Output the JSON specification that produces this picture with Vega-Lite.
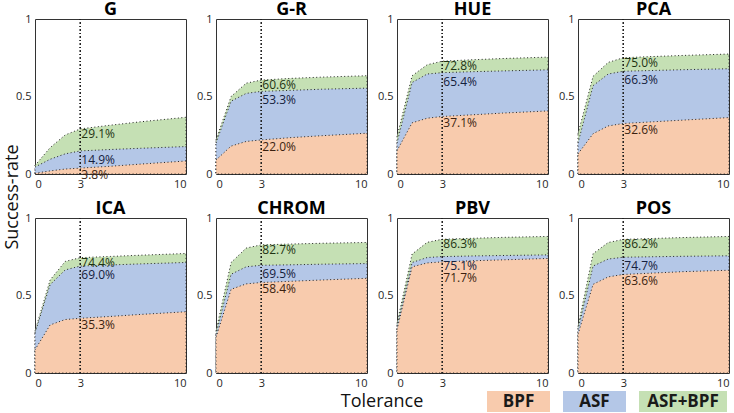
{
  "$schema": "https://vega.github.io/schema/vega-lite/v6.json",
  "padding": 0,
  "autosize": {"type": "pad"},
  "background": "white",
  "config": {
    "font": "Open Sans",
    "view": {"stroke": "#333333", "strokeWidth": 1},
    "axis": {"grid": false, "domain": false, "ticks": false, "labelFont": "Open Sans", "labelFontSize": 11, "labelColor": "#262626", "labelPadding": 4}
  },
  "datasets": {
    "curves": [
      {"m": "G", "x": 0, "bpf": 0.005, "asf": 0.045, "both": 0.055},
      {"m": "G", "x": 1, "bpf": 0.02, "asf": 0.095, "both": 0.17},
      {"m": "G", "x": 2, "bpf": 0.032, "asf": 0.13, "both": 0.252},
      {"m": "G", "x": 3, "bpf": 0.038, "asf": 0.149, "both": 0.291},
      {"m": "G", "x": 5, "bpf": 0.05, "asf": 0.158, "both": 0.315},
      {"m": "G", "x": 7, "bpf": 0.064, "asf": 0.166, "both": 0.337},
      {"m": "G", "x": 10, "bpf": 0.084, "asf": 0.177, "both": 0.366},
      {"m": "G-R", "x": 0, "bpf": 0.09, "asf": 0.2, "both": 0.22},
      {"m": "G-R", "x": 1, "bpf": 0.18, "asf": 0.47, "both": 0.5},
      {"m": "G-R", "x": 2, "bpf": 0.21, "asf": 0.52, "both": 0.586},
      {"m": "G-R", "x": 3, "bpf": 0.22, "asf": 0.533, "both": 0.606},
      {"m": "G-R", "x": 5, "bpf": 0.235, "asf": 0.54, "both": 0.617},
      {"m": "G-R", "x": 7, "bpf": 0.247, "asf": 0.547, "both": 0.625},
      {"m": "G-R", "x": 10, "bpf": 0.263, "asf": 0.554, "both": 0.634},
      {"m": "HUE", "x": 0, "bpf": 0.15, "asf": 0.2, "both": 0.24},
      {"m": "HUE", "x": 1, "bpf": 0.33, "asf": 0.59, "both": 0.634},
      {"m": "HUE", "x": 2, "bpf": 0.36, "asf": 0.645, "both": 0.705},
      {"m": "HUE", "x": 3, "bpf": 0.371, "asf": 0.654, "both": 0.728},
      {"m": "HUE", "x": 5, "bpf": 0.382, "asf": 0.66, "both": 0.737},
      {"m": "HUE", "x": 7, "bpf": 0.393, "asf": 0.665, "both": 0.745},
      {"m": "HUE", "x": 10, "bpf": 0.407, "asf": 0.672, "both": 0.754},
      {"m": "PCA", "x": 0, "bpf": 0.13, "asf": 0.2, "both": 0.26},
      {"m": "PCA", "x": 1, "bpf": 0.26, "asf": 0.57, "both": 0.63},
      {"m": "PCA", "x": 2, "bpf": 0.31, "asf": 0.645, "both": 0.72},
      {"m": "PCA", "x": 3, "bpf": 0.326, "asf": 0.663, "both": 0.75},
      {"m": "PCA", "x": 5, "bpf": 0.337, "asf": 0.668, "both": 0.758},
      {"m": "PCA", "x": 7, "bpf": 0.348, "asf": 0.673, "both": 0.765},
      {"m": "PCA", "x": 10, "bpf": 0.364, "asf": 0.679, "both": 0.774},
      {"m": "ICA", "x": 0, "bpf": 0.15, "asf": 0.26, "both": 0.27},
      {"m": "ICA", "x": 1, "bpf": 0.31, "asf": 0.57, "both": 0.6},
      {"m": "ICA", "x": 2, "bpf": 0.345, "asf": 0.665, "both": 0.72},
      {"m": "ICA", "x": 3, "bpf": 0.353, "asf": 0.69, "both": 0.744},
      {"m": "ICA", "x": 5, "bpf": 0.365, "asf": 0.697, "both": 0.752},
      {"m": "ICA", "x": 7, "bpf": 0.378, "asf": 0.704, "both": 0.76},
      {"m": "ICA", "x": 10, "bpf": 0.395, "asf": 0.713, "both": 0.771},
      {"m": "CHROM", "x": 0, "bpf": 0.23, "asf": 0.25, "both": 0.27},
      {"m": "CHROM", "x": 1, "bpf": 0.54, "asf": 0.637, "both": 0.713},
      {"m": "CHROM", "x": 2, "bpf": 0.575, "asf": 0.685, "both": 0.806},
      {"m": "CHROM", "x": 3, "bpf": 0.584, "asf": 0.695, "both": 0.827},
      {"m": "CHROM", "x": 5, "bpf": 0.592, "asf": 0.698, "both": 0.832},
      {"m": "CHROM", "x": 7, "bpf": 0.6, "asf": 0.702, "both": 0.837},
      {"m": "CHROM", "x": 10, "bpf": 0.611, "asf": 0.706, "both": 0.842},
      {"m": "PBV", "x": 0, "bpf": 0.28, "asf": 0.3, "both": 0.32},
      {"m": "PBV", "x": 1, "bpf": 0.685, "asf": 0.713, "both": 0.767},
      {"m": "PBV", "x": 2, "bpf": 0.71, "asf": 0.745, "both": 0.843},
      {"m": "PBV", "x": 3, "bpf": 0.717, "asf": 0.751, "both": 0.863},
      {"m": "PBV", "x": 5, "bpf": 0.724, "asf": 0.755, "both": 0.869},
      {"m": "PBV", "x": 7, "bpf": 0.73, "asf": 0.758, "both": 0.875},
      {"m": "PBV", "x": 10, "bpf": 0.739, "asf": 0.762, "both": 0.881},
      {"m": "POS", "x": 0, "bpf": 0.25, "asf": 0.28, "both": 0.3},
      {"m": "POS", "x": 1, "bpf": 0.572, "asf": 0.69, "both": 0.77},
      {"m": "POS", "x": 2, "bpf": 0.62, "asf": 0.735, "both": 0.842},
      {"m": "POS", "x": 3, "bpf": 0.636, "asf": 0.747, "both": 0.862},
      {"m": "POS", "x": 5, "bpf": 0.645, "asf": 0.75, "both": 0.868},
      {"m": "POS", "x": 7, "bpf": 0.654, "asf": 0.753, "both": 0.874},
      {"m": "POS", "x": 10, "bpf": 0.663, "asf": 0.756, "both": 0.881}
    ]
  },
  "bounds": "flush",
  "spacing": 13,
  "hconcat": [
    {
      "width": 22,
      "height": 356,
      "view": {"stroke": null},
      "data": {"values": [{"t": "Success-rate"}]},
      "mark": {"type": "text", "angle": 270, "dy": 2, "fontSize": 18, "font": "Open Sans", "color": "#111111"},
      "encoding": {"text": {"field": "t", "type": "nominal"}}
    },
    {
      "spacing": 2,
      "vconcat": [
        {
          "data": {"name": "curves"},
          "facet": {
            "field": "m",
            "type": "nominal",
            "sort": ["G", "G-R", "HUE", "PCA", "ICA", "CHROM", "PBV", "POS"],
            "header": {"title": null, "labelFontSize": 18, "labelFontWeight": "bold", "labelFont": "Open Sans", "labelColor": "#000000", "labelPadding": -6}
          },
          "columns": 4,
          "bounds": "flush",
          "spacing": {"column": 30, "row": 44},
          "resolve": {"axis": {"x": "independent", "y": "independent"}},
          "spec": {
            "width": 151,
            "height": 155,
            "layer": [
              {
                "mark": {"type": "area", "fill": "#C5E0B4", "stroke": "#222222", "strokeWidth": 1, "strokeDash": [1, 2.5]},
                "encoding": {
                  "x": {"field": "x", "type": "quantitative", "title": null, "scale": {"domain": [0, 10]}, "axis": {"values": [0, 3, 10], "format": "d"}},
                  "y": {"field": "both", "type": "quantitative", "title": null, "scale": {"domain": [0, 1]}, "axis": {"values": [0, 0.5, 1], "format": "~g"}}
                }
              },
              {
                "mark": {"type": "area", "fill": "#B4C7E7", "stroke": "#222222", "strokeWidth": 1, "strokeDash": [1, 2.5]},
                "encoding": {
                  "x": {"field": "x", "type": "quantitative", "title": null},
                  "y": {"field": "asf", "type": "quantitative", "title": null}
                }
              },
              {
                "mark": {"type": "area", "fill": "#F8CBAD", "stroke": "#222222", "strokeWidth": 1, "strokeDash": [1, 2.5]},
                "encoding": {
                  "x": {"field": "x", "type": "quantitative", "title": null},
                  "y": {"field": "bpf", "type": "quantitative", "title": null}
                }
              },
              {
                "mark": {"type": "rule", "stroke": "#222222", "strokeWidth": 1, "strokeDash": [1, 2.5]},
                "encoding": {"x": {"datum": 3}}
              },
              {
                "transform": [{"filter": "datum.x == 3"}],
                "mark": {"type": "text", "align": "left", "baseline": "top", "dx": 1, "dy": 0, "fontSize": 12, "font": "Open Sans", "color": "#1e3312"},
                "encoding": {
                  "x": {"field": "x", "type": "quantitative", "title": null},
                  "y": {"field": "both", "type": "quantitative", "title": null},
                  "text": {"field": "both", "type": "quantitative", "format": ".1%"}
                }
              },
              {
                "transform": [{"filter": "datum.x == 3"}],
                "mark": {"type": "text", "align": "left", "baseline": "top", "dx": 1, "dy": 4, "fontSize": 12, "font": "Open Sans", "color": "#14213d"},
                "encoding": {
                  "x": {"field": "x", "type": "quantitative", "title": null},
                  "y": {"field": "asf", "type": "quantitative", "title": null},
                  "text": {"field": "asf", "type": "quantitative", "format": ".1%"}
                }
              },
              {
                "transform": [{"filter": "datum.x == 3 && datum.asf - datum.bpf >= 0.06"}],
                "mark": {"type": "text", "align": "left", "baseline": "top", "dx": 1, "dy": 2, "fontSize": 12, "font": "Open Sans", "color": "#3b1f0f"},
                "encoding": {
                  "x": {"field": "x", "type": "quantitative", "title": null},
                  "y": {"field": "bpf", "type": "quantitative", "title": null},
                  "text": {"field": "bpf", "type": "quantitative", "format": ".1%"}
                }
              },
              {
                "transform": [{"filter": "datum.x == 3 && datum.asf - datum.bpf < 0.06"}],
                "mark": {"type": "text", "align": "left", "baseline": "top", "dx": 1, "dy": 11, "fontSize": 12, "font": "Open Sans", "color": "#3b1f0f"},
                "encoding": {
                  "x": {"field": "x", "type": "quantitative", "title": null},
                  "y": {"field": "bpf", "type": "quantitative", "title": null},
                  "text": {"field": "bpf", "type": "quantitative", "format": ".1%"}
                }
              }
            ]
          }
        },
        {
          "bounds": "flush",
          "spacing": 13,
          "hconcat": [
            {
              "width": 242,
              "height": 21,
              "view": {"stroke": null},
              "data": {"values": [{"t": ""}]},
              "mark": {"type": "text"},
              "encoding": {"text": {"field": "t", "type": "nominal"}}
            },
            {
              "width": 184,
              "height": 21,
              "view": {"stroke": null},
              "data": {"values": [{"t": "Tolerance"}]},
              "mark": {"type": "text", "fontSize": 18, "font": "Open Sans", "color": "#111111"},
              "encoding": {"text": {"field": "t", "type": "nominal"}}
            },
            {
              "width": 63,
              "height": 21,
              "view": {"stroke": null, "fill": "#F8CBAD"},
              "data": {"values": [{"label": "BPF"}]},
              "mark": {"type": "text", "fontSize": 17, "fontWeight": "bold", "font": "Open Sans", "color": "#1a1a1a"},
              "encoding": {"text": {"field": "label", "type": "nominal"}}
            },
            {
              "width": 63,
              "height": 21,
              "view": {"stroke": null, "fill": "#B4C7E7"},
              "data": {"values": [{"label": "ASF"}]},
              "mark": {"type": "text", "fontSize": 17, "fontWeight": "bold", "font": "Open Sans", "color": "#1a1a1a"},
              "encoding": {"text": {"field": "label", "type": "nominal"}}
            },
            {
              "width": 88,
              "height": 21,
              "view": {"stroke": null, "fill": "#C5E0B4"},
              "data": {"values": [{"label": "ASF+BPF"}]},
              "mark": {"type": "text", "fontSize": 17, "fontWeight": "bold", "font": "Open Sans", "color": "#1a1a1a"},
              "encoding": {"text": {"field": "label", "type": "nominal"}}
            }
          ]
        }
      ]
    }
  ]
}
